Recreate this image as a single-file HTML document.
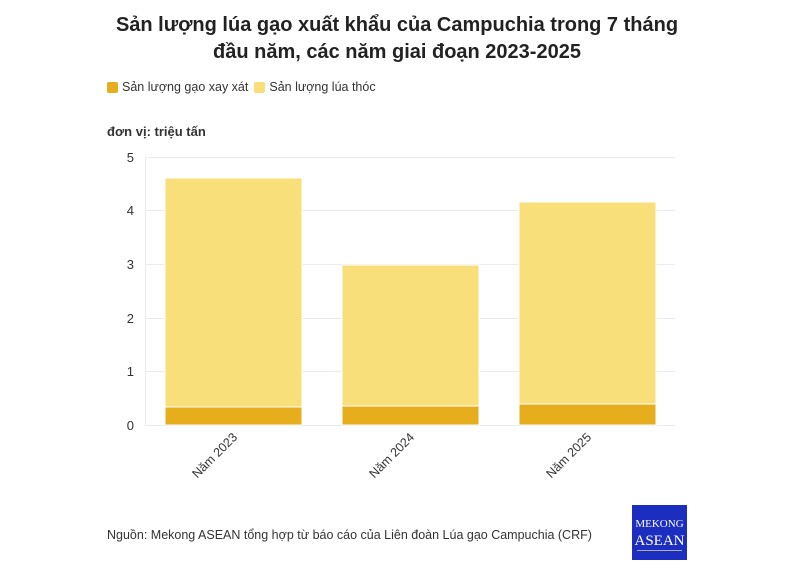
<!DOCTYPE html>
<html><head><meta charset="utf-8"><style>
body{margin:0;width:794px;height:575px;background:#fff;font-family:"Liberation Sans",sans-serif;position:relative;overflow:hidden;color:#333}
.t{position:absolute;left:0;width:794px;text-align:center;top:12px;font-weight:bold;font-size:20px;line-height:27px;color:#222}
.a{position:absolute}
</style></head><body>
<div class="t">Sản lượng lúa gạo xuất khẩu của Campuchia trong 7 tháng<br>đầu năm, các năm giai đoạn 2023-2025</div>
<div class="a" style="left:107px;top:80px;font-size:12.5px;color:#333;display:flex;align-items:center">
<span style="width:11px;height:11px;background:#e6ae1c;display:inline-block;margin-right:4px;border-radius:2px"></span>Sản lượng gạo xay xát
<span style="width:11px;height:11px;background:#f8df7a;display:inline-block;margin:0 4px 0 6px;border-radius:2px"></span>Sản lượng lúa thóc</div>
<div class="a" style="left:107px;top:124px;font-size:13px;font-weight:bold;color:#333">đơn vị: triệu tấn</div>
<svg class="a" style="left:0;top:0" width="794" height="575">
<g stroke="#ebebeb" stroke-width="1">
<line x1="145" x2="675" y1="157.5" y2="157.5"/><line x1="145" x2="675" y1="210.5" y2="210.5"/>
<line x1="145" x2="675" y1="264.5" y2="264.5"/><line x1="145" x2="675" y1="318.5" y2="318.5"/>
<line x1="145" x2="675" y1="371.5" y2="371.5"/><line x1="145" x2="675" y1="425.5" y2="425.5"/>
<line x1="145.5" x2="145.5" y1="157" y2="425"/>
</g>
<g font-size="13" fill="#333" text-anchor="end">
<text x="134" y="162">5</text><text x="134" y="215">4</text><text x="134" y="269">3</text>
<text x="134" y="323">2</text><text x="134" y="376">1</text><text x="134" y="430">0</text></g>
<g stroke="#fff" stroke-width="1">
<rect x="165" y="178" width="137" height="229" fill="#f8df7a"/><rect x="165" y="407" width="137" height="18" fill="#e6ae1c"/>
<rect x="342" y="265" width="137" height="141" fill="#f8df7a"/><rect x="342" y="406" width="137" height="19" fill="#e6ae1c"/>
<rect x="519" y="202" width="137" height="202" fill="#f8df7a"/><rect x="519" y="404" width="137" height="21" fill="#e6ae1c"/>
</g>
<g font-size="12.5" fill="#333" text-anchor="end">
<text transform="translate(238,438) rotate(-45)">Năm 2023</text>
<text transform="translate(415,438) rotate(-45)">Năm 2024</text>
<text transform="translate(592,438) rotate(-45)">Năm 2025</text></g>
<rect x="632" y="505" width="55" height="55" fill="#1b2ec0"/>
<text x="659.5" y="527" fill="#fff" font-family="Liberation Serif,serif" font-size="11" text-anchor="middle">MEKONG</text>
<text x="659.5" y="545" fill="#fff" font-family="Liberation Serif,serif" font-size="15" text-anchor="middle">ASEAN</text>
<rect x="637" y="550" width="45" height="1" fill="#aab"/>
</svg>
<div class="a" style="left:107px;top:528px;font-size:12.5px;color:#333">Nguồn: Mekong ASEAN tổng hợp từ báo cáo của Liên đoàn Lúa gạo Campuchia (CRF)</div>
</body></html>
